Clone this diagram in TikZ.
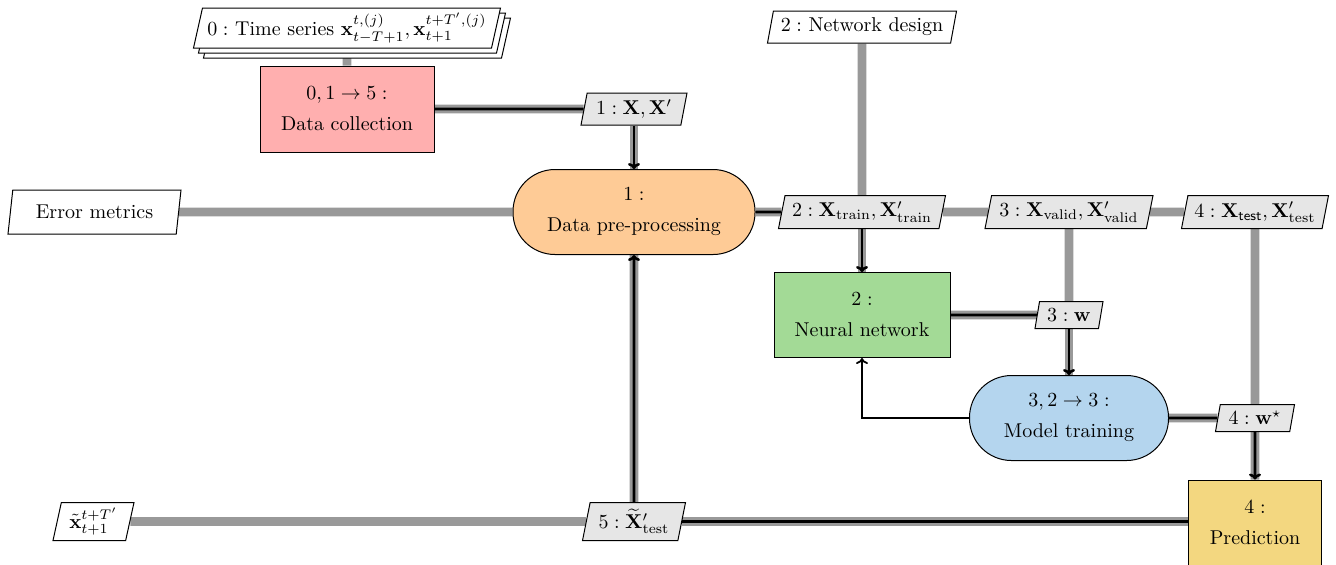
\documentclass[tikz,border=0pt]{standalone}
\usepackage{amsmath}
\usetikzlibrary{shapes.geometric,shadows,arrows.meta,backgrounds}

\definecolor{collectfill}{HTML}{FFAFAF}
\definecolor{prepfill}{HTML}{FECB96}
\definecolor{netfill}{HTML}{A3DA96}
\definecolor{trainfill}{HTML}{B4D5EE}
\definecolor{predfill}{HTML}{F3D780}
\definecolor{datafill}{HTML}{E6E6E6}

\tikzset{
  datablock/.style={trapezium, trapezium left angle=75, trapezium right angle=105,
    trapezium stretches body, draw, line width=0.5pt, fill=datafill, inner sep=1pt},
  ioblock/.style={datablock, fill=white},
  funcbox/.style={rectangle, draw, line width=0.5pt, align=center, inner sep=1pt,
    minimum height=43pt},
  stadium/.style={funcbox, rounded corners=21pt},
  dataline/.style={line width=4.3pt, draw=black!40},
  procline/.style={line width=1.3pt, draw=black},
  procarrow/.style={procline, -{To[length=3pt,width=6pt]}},
  loopline/.style={line width=0.9pt, draw=black, -{To[length=3pt,width=6pt]}}
}

\begin{document}
\begin{tikzpicture}[x=0.5pt, y=-0.5pt]
\useasboundingbox (0,0) rectangle (1336,564);

% inputs
\node[ioblock, double copy shadow={shadow xshift=2.5pt, shadow yshift=-2.5pt},
  minimum width=153.5pt, minimum height=20pt] (ts) at (347,28)
  {$0:$ Time series $\mathbf{x}^{t,(j)}_{t-T+1}, \mathbf{x}^{t+T',(j)}_{t+1}$};
\node[ioblock, minimum width=94.5pt, minimum height=16pt] (nd) at (862,27)
  {$2:$ Network design};
\node[ioblock, minimum width=86.5pt, minimum height=22pt] (err) at (94.5,212)
  {Error metrics};
\node[ioblock, minimum width=40.5pt, minimum height=19pt] (xout) at (93.5,521.5)
  {$\tilde{\mathbf{x}}^{t+T'}_{t+1}$};

% process blocks
\node[funcbox, fill=collectfill, minimum width=87pt] (dc) at (347,109)
  {$0, 1 \to 5:$\\[3.5pt] Data collection};
\node[stadium, fill=prepfill, minimum width=121pt, minimum height=42.5pt] (pp) at (634,212)
  {$1:$\\[3.5pt] Data pre-processing};
\node[funcbox, fill=netfill, minimum width=88pt, minimum height=42.5pt] (nn) at (862,315)
  {$2:$\\[3.5pt] Neural network};
\node[stadium, fill=trainfill, minimum width=99.5pt, minimum height=42.5pt] (mt) at (1069,418)
  {$3, 2 \to 3:$\\[3.5pt] Model training};
\node[funcbox, fill=predfill, minimum width=66.5pt] (pred) at (1255,523)
  {$4:$\\[3.5pt] Prediction};

% data exchanged between blocks
\node[datablock, minimum width=53pt, minimum height=16pt] (x1) at (634,109)
  {$1: \mathbf{X}, \mathbf{X}'$};
\node[datablock, minimum width=83.5pt, minimum height=16.5pt] (xtr) at (862,212)
  {$2: \mathbf{X}_\mathrm{train}, \mathbf{X}'_\mathrm{train}$};
\node[datablock, minimum width=84pt, minimum height=16.5pt] (xva) at (1069,212)
  {$3: \mathbf{X}_\mathrm{valid}, \mathbf{X}'_\mathrm{valid}$};
\node[datablock, minimum width=73.5pt, minimum height=16.5pt] (xte) at (1255,212)
  {$4: \mathbf{X}_\textsf{test}, \mathbf{X}'_\mathrm{test}$};
\node[datablock, minimum width=34pt, minimum height=13.5pt] (w) at (1069,315)
  {$3: \mathbf{w}$};
\node[datablock, minimum width=39.5pt, minimum height=13.5pt] (ws) at (1255,418)
  {$4: \mathbf{w}^\star$};
\node[datablock, minimum width=51.5pt, minimum height=19pt] (xt5) at (634,521.5)
  {$5: \widetilde{\mathbf{X}}'_\mathrm{test}$};

% connections
\begin{scope}[on background layer]
  \draw[dataline] (ts) -- (dc);
  \draw[dataline] (dc) -- (x1);
  \draw[dataline] (x1) -- (pp);
  \draw[dataline] (err) -- (pp);
  \draw[dataline] (pp) -- (xtr);
  \draw[dataline] (nd) -- (xtr);
  \draw[dataline] (xtr) -- (xva);
  \draw[dataline] (xva) -- (xte);
  \draw[dataline] (xtr) -- (nn);
  \draw[dataline] (nn) -- (w);
  \draw[dataline] (xva) -- (w);
  \draw[dataline] (w) -- (mt);
  \draw[dataline] (mt) -- (ws);
  \draw[dataline] (xte) -- (ws);
  \draw[dataline] (ws) -- (pred);
  \draw[dataline] (pred.west |- xt5) -- (xt5);
  \draw[dataline] (xt5) -- (pp);
  \draw[dataline] (xout) -- (xt5);

  \draw[procline] (dc) -- (x1);
  \draw[procarrow] (x1) -- (pp);
  \draw[procline] (pp) -- (xtr);
  \draw[procarrow] (xtr) -- (nn);
  \draw[procline] (nn) -- (w);
  \draw[procarrow] (w) -- (mt);
  \draw[procline] (mt) -- (ws);
  \draw[procarrow] (ws) -- (pred);
  \draw[procline] (pred.west |- xt5) -- (xt5);
  \draw[procarrow] (xt5) -- (pp);
\end{scope}
\draw[loopline] (mt.west) -| (nn.south);
\end{tikzpicture}
\end{document}
